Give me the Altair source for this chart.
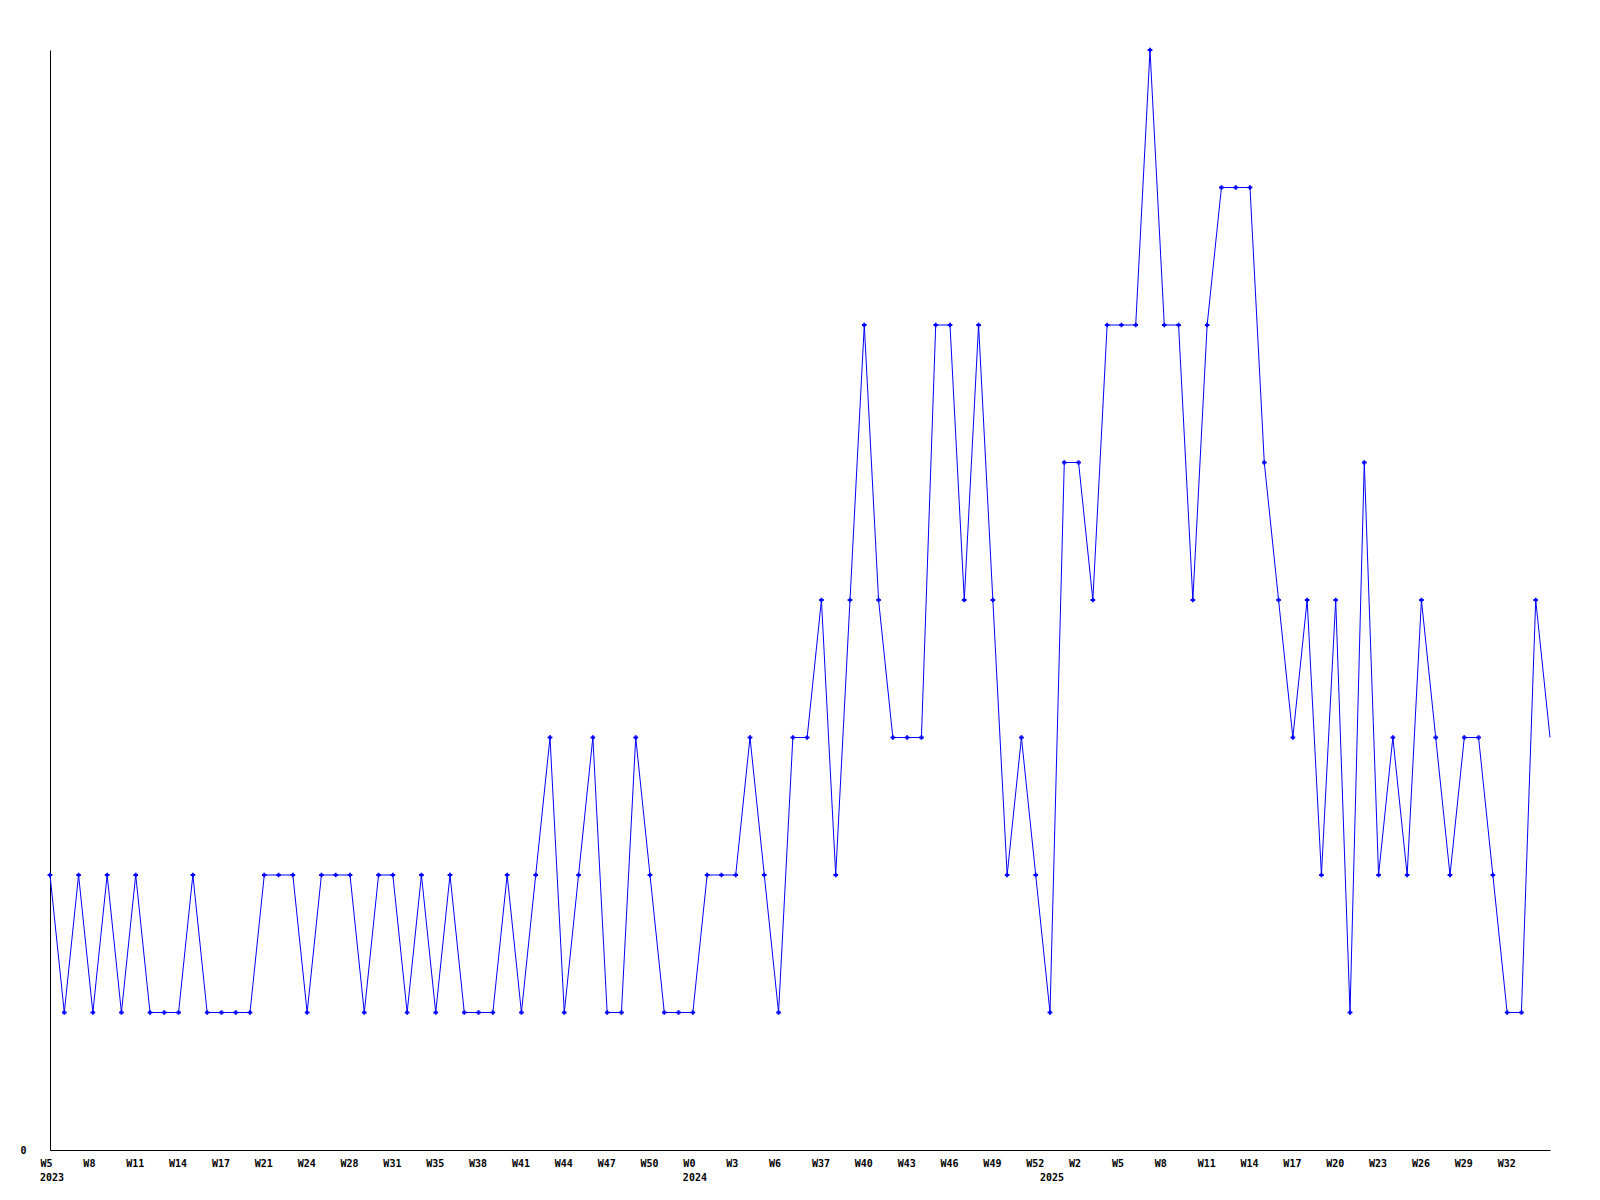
import altair as alt
import pandas as pd

values = [2, 1, 2, 1, 2, 1, 2, 1, 1, 1,
          2, 1, 1, 1, 1, 2, 2, 2, 1, 2,
          2, 2, 1, 2, 2, 1, 2, 1, 2, 1,
          1, 1, 2, 1, 2, 3, 1, 2, 3, 1,
          1, 3, 2, 1, 1, 1, 2, 2, 2, 3,
          2, 1, 3, 3, 4, 2, 4, 6, 4, 3,
          3, 3, 6, 6, 4, 6, 4, 2, 3, 2,
          1, 5, 5, 4, 6, 6, 6, 8, 6, 6,
          4, 6, 7, 7, 7, 5, 4, 3, 4, 2,
          4, 1, 5, 2, 3, 2, 4, 3, 2, 3,
          3, 2, 1, 1, 4, 3]

week_labels = ["W5", "W8", "W11", "W14", "W17", "W21", "W24", "W28", "W31", "W35",
               "W38", "W41", "W44", "W47", "W50", "W0", "W3", "W6", "W37", "W40",
               "W43", "W46", "W49", "W52", "W2", "W5", "W8", "W11", "W14", "W17",
               "W20", "W23", "W26", "W29", "W32"]
label_step = 3

years = ["2023", "2024", "2025"]
year_start = [0, 45, 70]

n = len(values)
df = pd.DataFrame({"i": list(range(n)), "v": values})
df["marker"] = [k < n - 1 for k in range(n)]
df_years = pd.DataFrame({"i": year_start, "year": years})

tick_vals = [k * label_step for k in range(len(week_labels))]
label_expr = "[" + ",".join("'%s'" % s for s in week_labels) + "][round(datum.value / %d)]" % label_step

FONT = "DejaVu Sans Mono"
BLUE = "#0000FF"

x_enc = alt.X("i:Q", scale=alt.Scale(domain=[0, n - 1], nice=False, zero=False),
              axis=alt.Axis(values=tick_vals, labelExpr=label_expr, title=None, grid=False,
                            ticks=False, tickSize=0, labelAlign="left", labelOffset=-10,
                            labelPadding=8, labelFont=FONT, labelFontSize=10,
                            labelFontWeight="bold", labelColor="black", domainColor="black",
                            labelOverlap=False, labelFlush=False, labelBound=False))
y_enc = alt.Y("v:Q", scale=alt.Scale(domain=[0, 8], nice=False, zero=True),
              axis=alt.Axis(values=[0], title=None, grid=False, ticks=False, tickSize=0,
                            labelPadding=24, labelFont=FONT, labelFontSize=10,
                            labelFontWeight="bold", labelColor="black", domainColor="black",
                            labelBaseline="middle"))

line = alt.Chart(df).mark_line(color=BLUE, strokeWidth=1).encode(x=x_enc, y=y_enc)
pts = alt.Chart(df).transform_filter("datum.marker").mark_point(
    shape="cross", filled=True, size=22, color=BLUE, opacity=1).encode(x=x_enc, y=y_enc)

year_text = alt.Chart(df_years).mark_text(
    align="left", baseline="top", dx=-10, font=FONT, fontSize=10, fontWeight="bold",
    color="black").encode(x=alt.X("i:Q"), y=alt.value(1123), text="year:N")

chart = alt.layer(line, pts, year_text).properties(
    width=1500, height=1100,
    background="white",
    autosize=alt.AutoSizeParams(type="none"),
    padding={"left": 42, "top": 42, "right": 30, "bottom": 40},
).configure_view(stroke=None, strokeWidth=0)

chart.save("out.html", embed_options={"renderer": "svg", "actions": False})
